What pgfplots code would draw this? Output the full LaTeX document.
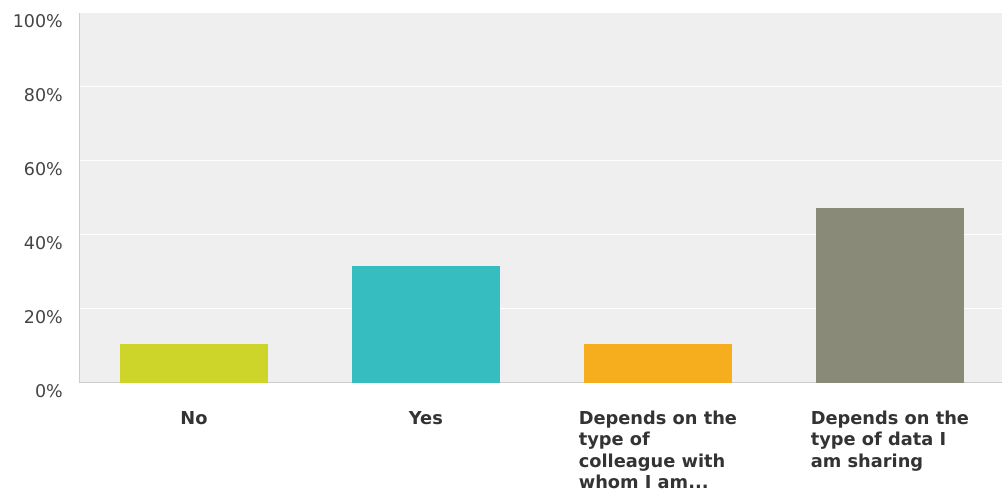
\documentclass[border=0pt]{standalone}
\usepackage{pgfplots}
\pgfplotsset{compat=1.18}
\usepackage{fontspec}
\setmainfont{DejaVu Sans}
\definecolor{bgc}{HTML}{EFEFEF}
\definecolor{axc}{HTML}{CCCCCC}
\definecolor{cNo}{HTML}{CDD52A}
\definecolor{cYes}{HTML}{35BDBF}
\definecolor{cCol}{HTML}{F6AE1F}
\definecolor{cDat}{HTML}{8A8A78}
\definecolor{txt}{HTML}{333333}
\definecolor{ytxt}{HTML}{444444}
\begin{document}
\begin{tikzpicture}[x=1pt,y=1pt]
\useasboundingbox (0,0) rectangle (1002,502);
\begin{axis}[
  at={(80pt,119pt)}, anchor=south west,
  scale only axis, width=922pt, height=370pt,
  xmin=-0.491, xmax=3.483, ymin=0, ymax=100,
  ybar, bar shift=0pt, bar width=0.638,
  axis background/.style={fill=bgc},
  axis x line*=bottom, axis y line*=left,
  axis line style={draw=axc, line width=1pt, -},
  ytick={0,20,40,60,80,100},
  yticklabels={0\%,20\%,40\%,60\%,80\%,100\%},
  ymajorgrids, grid style={draw=white, line width=1pt},
  major tick length=0pt,
  xtick={0,1,2,3},
  xticklabels={No,Yes,{Depends on the\\type of\\colleague with\\whom I am.{}.{}.},{Depends on the\\type of data I\\am sharing}},
  xticklabel style={anchor=north, inner sep=0pt, yshift=-28pt, align=left, font=\fontsize{17.8}{21.2}\selectfont\bfseries, text=txt},
  yticklabel style={anchor=east, inner sep=0pt, xshift=-17pt, yshift=-8pt, font=\fontsize{17.5}{21}\selectfont, text=ytxt},
]
\addplot[fill=cNo, draw=none] coordinates {(0,10.5)};
\addplot[fill=cYes, draw=none] coordinates {(1,31.6)};
\addplot[fill=cCol, draw=none] coordinates {(2,10.5)};
\addplot[fill=cDat, draw=none] coordinates {(3,47.4)};
\end{axis}
\end{tikzpicture}
\end{document}
